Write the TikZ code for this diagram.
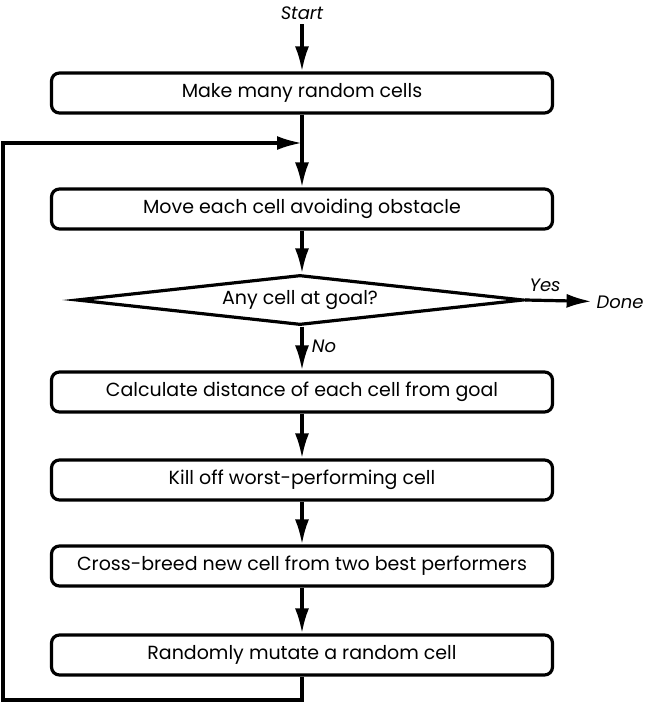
\documentclass[tikz,border=0pt]{standalone}
\usepackage{fontspec}
\setmainfont{Poppins}
\usepackage{tikz}
\usetikzlibrary{arrows.meta,shapes.geometric}

\begin{document}
\begin{tikzpicture}[x=1pt,y=-1pt,
    line width=3.2pt,
    flow/.style={-{Latex[length=25pt,width=14pt]}},
    stepbox/.style={draw,rounded corners=8pt,minimum width=501pt,minimum height=40pt,font=\fontsize{19}{22}\selectfont},
    test/.style={draw,diamond,aspect=9,inner sep=0pt,minimum width=447pt,minimum height=50pt,font=\fontsize{19}{22}\selectfont},
    lbl/.style={font=\fontsize{18}{21}\selectfont\itshape}]
    \useasboundingbox (0,0) rectangle (645,705);

    \node[lbl] (start) at (302,13) {Start};
    \node[stepbox] (make) at (302,93) {Make many random cells};
    \node[stepbox] (move) at (302,209) {Move each cell avoiding obstacle};
    \node[test] (goal) at (300,300) {Any cell at goal?};
    \node[stepbox] (dist) at (302,392) {Calculate distance of each cell from goal};
    \node[stepbox] (kill) at (302,480) {Kill off worst-performing cell};
    \node[stepbox] (breed) at (302,566) {Cross-breed new cell from two best performers};
    \node[stepbox] (mutate) at (302,655) {Randomly mutate a random cell};
    \node[lbl] (done) at (620,302) {Done};

    \coordinate (join) at (302,143);
    \coordinate (corner) at (3,700);

    \draw[flow] (start) -- (make);
    \draw[flow] (make) -- (move);
    \draw[flow] (move) -- (move |- goal.north);
    \draw[flow] (goal.east) -- (done) node[lbl,pos=0.3,above=4pt] (yes) {Yes};
    \draw[flow] (goal.south -| dist) -- (dist) node[lbl,pos=0.45,right=5pt] (no) {No};
    \draw[flow] (dist) -- (kill);
    \draw[flow] (kill) -- (breed);
    \draw[flow] (breed) -- (mutate);
    \draw[flow,line join=miter] (mutate) -- (mutate |- corner) -- (corner) |- (join);
\end{tikzpicture}
\end{document}
